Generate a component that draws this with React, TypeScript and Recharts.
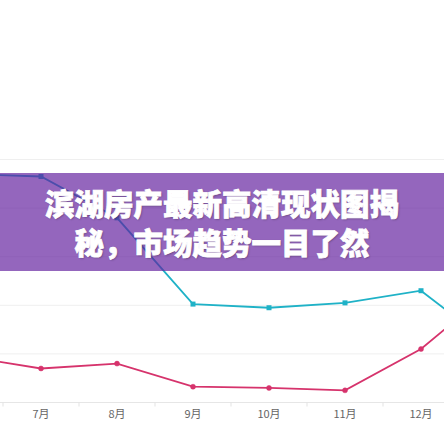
import React from 'react';
import { ComposedChart, Line, XAxis, YAxis, CartesianGrid } from 'recharts';

// months shown on the axis (first and last fall just outside the crop)
const months = ['6月', '7月', '8月', '9月', '10月', '11月', '12月', '1月'];
const cyanSeries = [94, 93, 76, 40.5, 39, 41, 46, 22];
const pinkSeries = [19, 14, 16, 6.5, 6, 5, 22, 48];
const yTicks = [0, 20, 40, 60, 80, 100];

const titleLines = ['滨湖房产最新高清现状图揭', '秘，市场趋势一目了然'];

const data = months.map((month, i) => ({
  month,
  cyan: cyanSeries[i],
  pink: pinkSeries[i],
}));

const CHART_W = 608;
const BAND = CHART_W / months.length;

const MonthTick = (props: any) => {
  const { x, y, payload, index } = props;
  const axisY = y - 8;
  const edge = x - BAND / 2;
  // the outer two months sit outside the cropped view, so no label for them
  const showLabel = index > 0 && index < months.length - 1;
  return (
    <g>
      <line x1={edge} y1={axisY} x2={edge} y2={axisY + 4} stroke="#e3e3e3" />
      {showLabel && (
        <text
          x={x}
          y={y}
          dy="0.71em"
          textAnchor="middle"
          fill="#666"
          fontSize={11}
          fontFamily="'Noto Sans CJK SC', sans-serif"
        >
          {payload.value}
        </text>
      )}
    </g>
  );
};

const SquareDot = (props: any) => {
  const { cx, cy, key } = props;
  if (cx == null || cy == null) return null;
  return <rect key={key} x={cx - 2.5} y={cy - 2.5} width={5} height={5} fill="#1fb2c7" />;
};

export default function App() {
  return (
    <div
      style={{
        position: 'absolute',
        top: 0,
        left: 0,
        width: 444,
        height: 444,
        overflow: 'hidden',
        background: '#fff',
      }}
    >
      <div style={{ position: 'absolute', left: -73, top: 0 }}>
        <ComposedChart
          width={CHART_W}
          height={444}
          data={data}
          margin={{ top: 159.5, right: 0, bottom: 11.5, left: 0 }}
        >
          <CartesianGrid vertical={false} stroke="#efefef" />
          <XAxis
            dataKey="month"
            scale="band"
            height={30}
            tickLine={false}
            tickSize={6}
            tickMargin={2}
            axisLine={{ stroke: '#e6e6e6' }}
            tick={<MonthTick />}
            interval={0}
          />
          <YAxis hide width={0} domain={[0, 100]} ticks={yTicks} />
          <Line
            dataKey="cyan"
            stroke="#1fb2c7"
            strokeWidth={1.8}
            dot={<SquareDot />}
            isAnimationActive={false}
          />
          <Line
            dataKey="pink"
            stroke="#d6336c"
            strokeWidth={1.8}
            dot={{ r: 2.5, fill: '#d6336c', stroke: '#d6336c', strokeWidth: 0.5 }}
            isAnimationActive={false}
          />
        </ComposedChart>
      </div>
      <div
        style={{
          position: 'absolute',
          left: 0,
          top: 173,
          width: 444,
          height: 98,
          background: 'rgba(98, 30, 158, 0.68)',
          display: 'flex',
          flexDirection: 'column',
          justifyContent: 'center',
          alignItems: 'center',
          color: '#fff',
          fontFamily: "'Noto Sans CJK SC', sans-serif",
          fontWeight: 900,
          fontSize: 29.5,
          lineHeight: '39px',
          WebkitTextStroke: '0.8px #fff',
          textShadow: '1px 1px 2px rgba(0,0,0,0.3)',
        }}
      >
        {titleLines.map((t) => (
          <div key={t}>{t}</div>
        ))}
      </div>
    </div>
  );
}
